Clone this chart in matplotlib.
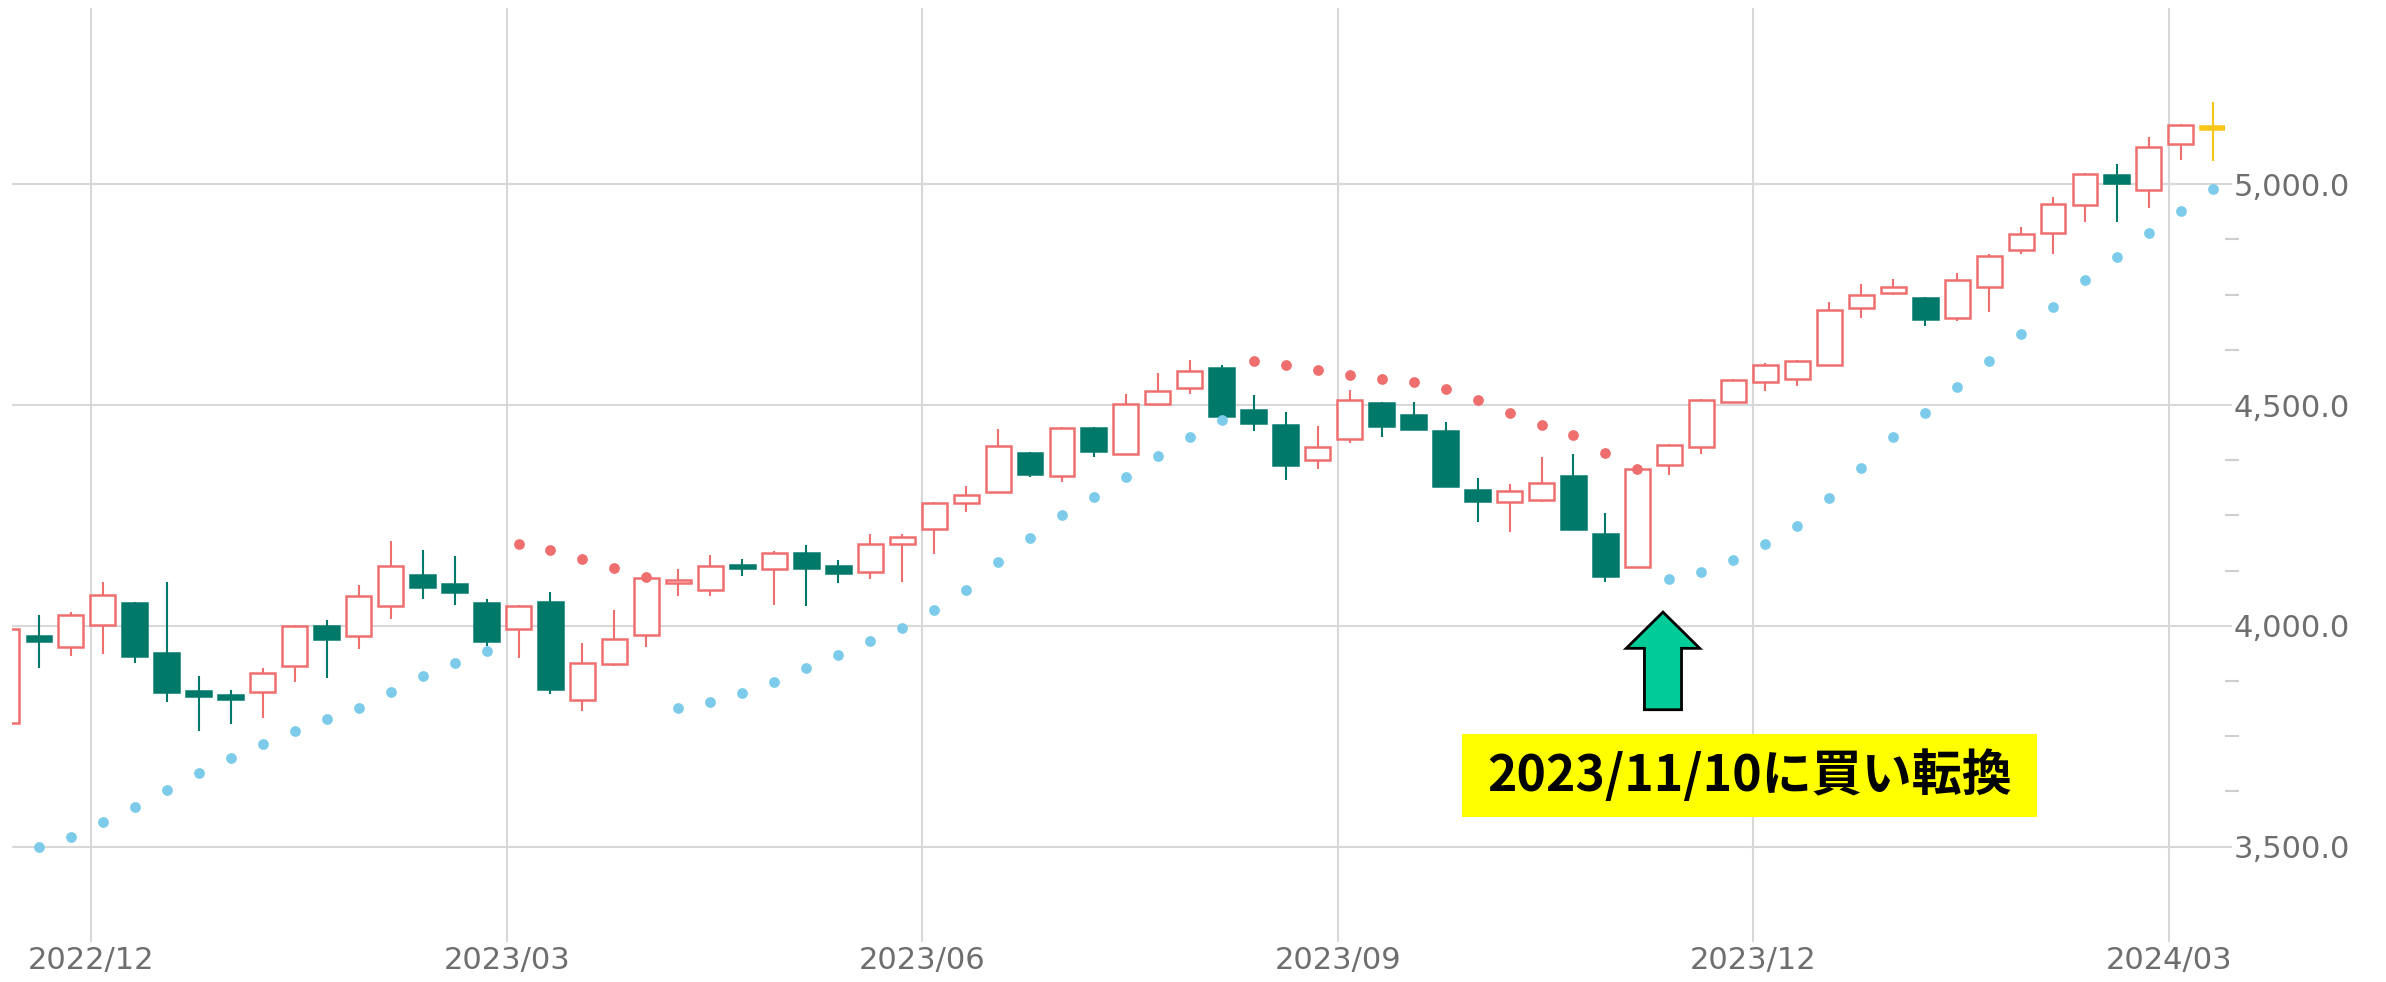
import matplotlib
matplotlib.use('Agg')
import matplotlib.pyplot as plt
import numpy as np
import pandas as pd
from matplotlib.patches import FancyArrow, Rectangle
from matplotlib.ticker import FixedLocator, FuncFormatter

# 週足データ (金曜日付), 2022/11/11 の週から
first_week = '2022-11-11'

opens = [3780, 3977, 3953, 4001, 4051, 3938, 3853, 3843, 3851, 3910,
         3999, 3976, 4045, 4115, 4094, 4051, 3993, 4053, 3832, 3913,
         3979, 4096, 4080, 4135, 4128, 4164, 4135, 4122, 4186, 4220,
         4277, 4302, 4391, 4339, 4447, 4390, 4503, 4539, 4583, 4488,
         4454, 4376, 4422, 4505, 4477, 4441, 4307, 4280, 4284, 4339,
         4207, 4134, 4364, 4404, 4507, 4552, 4560, 4590, 4720, 4754,
         4743, 4698, 4767, 4851, 4890, 4952, 5020, 4986, 5090, 5127]
highs = [3999, 4025, 4032, 4100, 4053, 4100, 3887, 3855, 3904, 4001,
         4013, 4092, 4193, 4172, 4158, 4060, 4048, 4077, 3962, 4036,
         4110, 4129, 4160, 4151, 4170, 4182, 4148, 4207, 4209, 4280,
         4316, 4445, 4393, 4450, 4450, 4524, 4573, 4603, 4590, 4522,
         4484, 4452, 4535, 4507, 4507, 4462, 4335, 4322, 4382, 4388,
         4256, 4356, 4411, 4513, 4560, 4594, 4601, 4733, 4774, 4786,
         4745, 4798, 4842, 4903, 4971, 5026, 5045, 5106, 5136, 5186]
lows = [3740, 3904, 3931, 3936, 3916, 3827, 3761, 3778, 3791, 3873,
        3881, 3947, 4015, 4060, 4047, 3955, 3926, 3845, 3808, 3908,
        3951, 4068, 4068, 4112, 4047, 4045, 4096, 4107, 4100, 4162,
        4258, 4300, 4337, 4326, 4382, 4388, 4500, 4526, 4470, 4441,
        4331, 4354, 4414, 4427, 4444, 4314, 4235, 4212, 4280, 4218,
        4100, 4130, 4341, 4390, 4505, 4532, 4542, 4588, 4696, 4749,
        4678, 4690, 4711, 4843, 4843, 4915, 4915, 4945, 5054, 5053]
closes = [3992, 3965, 4024, 4069, 3932, 3849, 3842, 3834, 3893, 3999,
          3971, 4068, 4136, 4089, 4077, 3966, 4044, 3858, 3916, 3971,
          4109, 4104, 4135, 4130, 4165, 4131, 4119, 4186, 4201, 4278,
          4296, 4407, 4343, 4448, 4396, 4502, 4532, 4577, 4475, 4459,
          4364, 4404, 4512, 4452, 4446, 4316, 4283, 4305, 4324, 4220,
          4112, 4354, 4409, 4511, 4556, 4590, 4599, 4715, 4750, 4767,
          4694, 4783, 4837, 4887, 4955, 5024, 5002, 5084, 5134, 5124]

# パラボリックSAR
nan = np.nan
sar = [nan, 3500, 3521, 3555, 3589, 3629, 3666, 3701, 3732, 3762,
       3789, 3813, 3851, 3887, 3916, 3943, 4185, 4172, 4151, 4130,
       4110, 3813, 3827, 3847, 3872, 3904, 3933, 3966, 3996, 4036,
       4081, 4145, 4198, 4251, 4292, 4337, 4384, 4428, 4465, 4600,
       4590, 4579, 4569, 4559, 4551, 4536, 4512, 4483, 4454, 4431,
       4391, 4356, 4107, 4122, 4150, 4185, 4226, 4290, 4358, 4427,
       4483, 4540, 4600, 4660, 4722, 4783, 4835, 4890, 4939, 4989]

month_labels = ['2022/12', '2023/03', '2023/06', '2023/09', '2023/12', '2024/03']
y_major = [3500, 4000, 4500, 5000]
note = '2023/11/10に買い転換'

# 色
red = '#EF6E6E'
teal = '#00796B'
blue = '#7CCBEA'
gold = '#F5C518'
grid_c = '#D8D8D8'
label_c = '#6E6E6E'

O = np.array(opens, float)
H = np.array(highs, float)
L = np.array(lows, float)
C = np.array(closes, float)
S = np.array(sar, float)
n = len(C)
x = np.arange(n)
dates = pd.date_range(first_week, periods=n, freq='W-FRI')

fig = plt.figure(figsize=(23.86, 9.82), dpi=100)
ax = fig.add_axes([12 / 2386, 40 / 982, (2225 - 12) / 2386, (942 - 8) / 982])

up = C >= O
face = np.where(up, 'white', teal).astype(object)
edge = np.where(up, red, teal).astype(object)
face[-1] = gold   # 今週の足
edge[-1] = gold
body_bot = np.minimum(O, C)
body_h = np.maximum(np.abs(C - O), 8)

ax.vlines(x, L, H, colors=list(edge), lw=1.5, zorder=2)
ax.bar(x, body_h, bottom=body_bot, width=0.78, color=list(face),
       edgecolor=list(edge), linewidth=1.8, zorder=3)

# SAR: 価格の下なら青、上なら赤
below = S < C
ax.scatter(x[below], S[below], s=60, color=blue, lw=0, zorder=4)
above = S > C
ax.scatter(x[above], S[above], s=60, color=red, lw=0, zorder=4)

# 買い転換の矢印と注記
sig = int(np.where(below[1:] & above[:-1])[0][-1] + 1)
ax.add_patch(FancyArrow(sig - 0.2, S[sig] - 297, 0, 221, width=1.16,
                        head_width=2.3, head_length=82, length_includes_head=True,
                        facecolor='#00CC99', edgecolor='black', lw=2, zorder=5))
ax.add_patch(Rectangle((sig + 2.5 - 9.0, S[sig] - 540), 18.0, 188,
                       facecolor='#FFFF00', edgecolor='none', zorder=5))
ax.text(sig + 2.5, S[sig] - 446, note, ha='center', va='center',
        fontsize=36, fontweight='bold', color='black',
        family=['Noto Sans CJK JP', 'DejaVu Sans'], zorder=6)

# 軸
tick_pos = []
for lab in month_labels:
    first_day = pd.Timestamp(lab.replace('/', '-') + '-01')
    tick_pos.append(int(np.argmax(dates >= first_day)) - 0.37)
ax.set_xticks(tick_pos)
ax.set_xticklabels(month_labels)
ax.set_xlim(0.156, 69.38)
ax.set_ylim(3284, 5399)

ax.yaxis.tick_right()
ax.yaxis.set_major_locator(FixedLocator(y_major))
ax.yaxis.set_minor_locator(FixedLocator([v for v in np.arange(3500, 5001, 125) if v % 500]))
ax.yaxis.set_major_formatter(FuncFormatter(lambda v, p: f'{v:,.1f}'))

ax.tick_params(axis='x', length=0, pad=3, labelsize=22, labelcolor=label_c)
ax.tick_params(axis='y', which='major', length=5, width=1.5, color=grid_c,
               pad=1, labelsize=22, labelcolor=label_c)
ax.tick_params(axis='y', which='minor', length=10, width=1.5, color='#CFCFCF')

for s in ax.spines.values():
    s.set_visible(False)
ax.set_axisbelow(True)
ax.grid(True, color=grid_c, lw=1.5)

fig.savefig('out.png', dpi=100)
